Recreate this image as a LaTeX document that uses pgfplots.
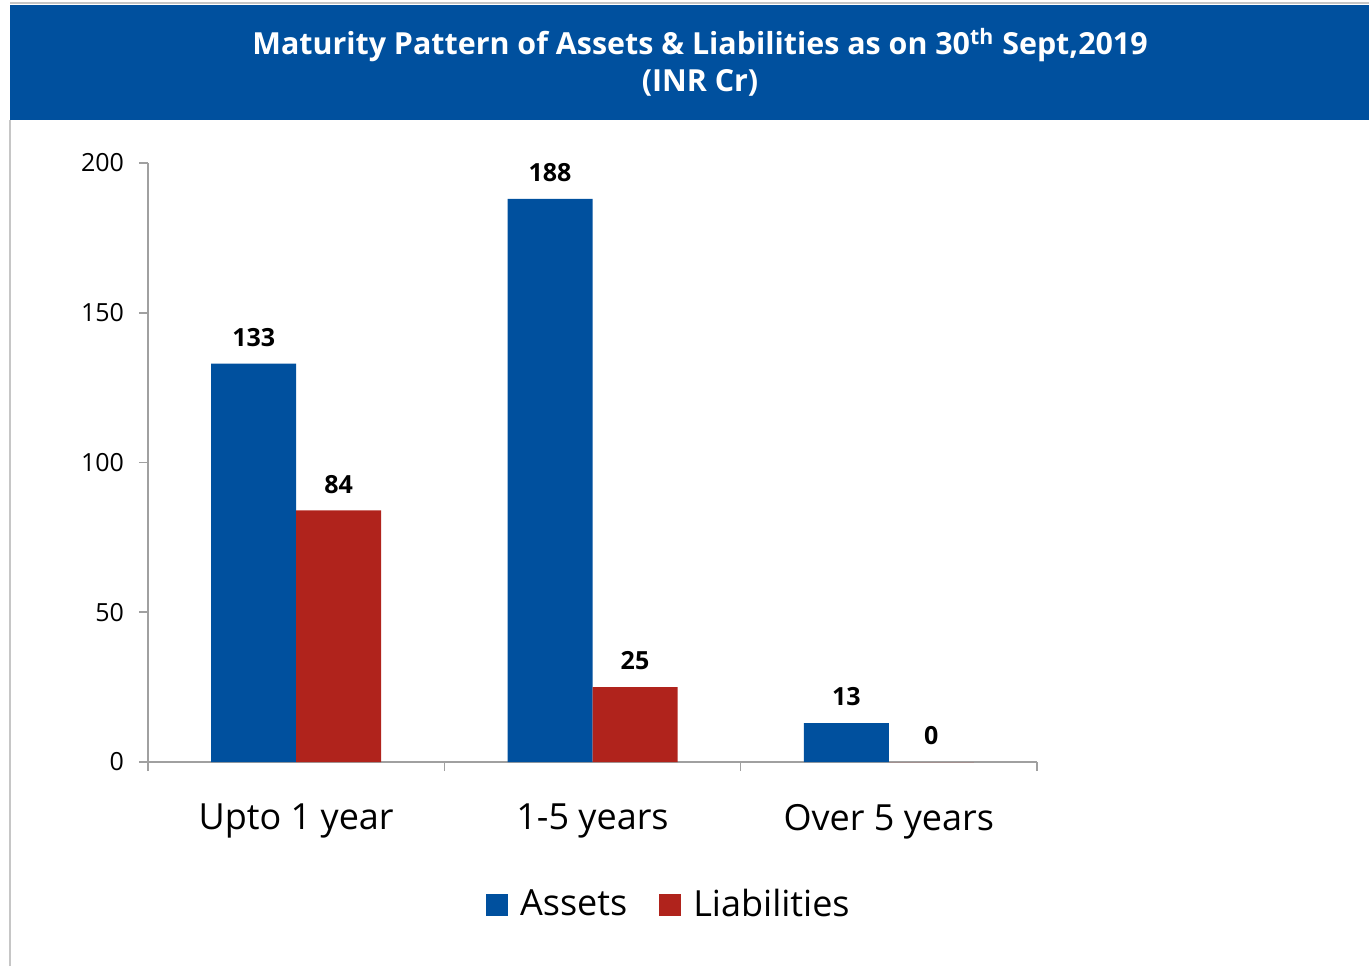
\documentclass[border=0pt]{standalone}
\usepackage{pgfplots}
\pgfplotsset{compat=1.18}
\usepackage{fontspec}
\setmainfont{Open Sans}
\definecolor{cblue}{RGB}{0,80,158}
\definecolor{cred}{RGB}{176,35,28}
\definecolor{axgray}{RGB}{160,160,160}
\begin{document}
\begin{tikzpicture}
\path[use as bounding box] (0,0) rectangle (684.5pt,483pt);
\fill[cblue] (5pt,423pt) rectangle (684.5pt,480.5pt);
\draw[axgray!60,line width=1pt] (5pt,481.5pt) -- (684.5pt,481.5pt);
\draw[axgray!60,line width=0.8pt] (5pt,0pt) -- (5pt,423pt);
\node[text=white,font=\fontsize{15.2}{17}\selectfont\bfseries] at (350pt,460.5pt) {Maturity Pattern of Assets \& Liabilities as on 30\textsuperscript{th} Sept,2019};
\node[text=white,font=\fontsize{15.2}{17}\selectfont\bfseries] at (350pt,441.5pt) {(INR Cr)};
\begin{axis}[
  at={(74pt,102pt)}, anchor=south west,
  scale only axis, width=444.5pt, height=299.5pt,
  ybar=0pt, bar width=42.5pt,
  xmin=-0.5, xmax=2.5, ymin=0, ymax=200,
  axis x line=bottom, axis y line=left,
  axis line style={axgray, -, line width=0.8pt},
  xtick={-0.5,0.5,1.5,2.5},
  x tick label as interval,
  xticklabels={Upto 1 year,1-5 years,Over 5 years},
  x tick label style={font=\fontsize{18}{21}\selectfont, yshift=-13pt},
  major tick length=4.5pt,
  tick style={axgray,line width=0.8pt},
  ytick={0,50,100,150,200},
  tick align=outside,
  y tick label style={font=\fontsize{12.5}{14}\selectfont, xshift=-4pt},
  /pgf/number format/assume math mode=true,
  nodes near coords,
  every node near coord/.append style={font=\fontsize{12.5}{14}\selectfont\bfseries, text=black, yshift=5pt},
  legend style={at={(0.587,-0.238)}, anchor=center, draw=none, legend columns=2,
    font=\fontsize{18}{21}\selectfont,
    /tikz/every odd column/.append style={column sep=4pt},
    /tikz/every even column/.append style={column sep=14pt}},
  legend image code/.code={\fill[#1] (0pt,-5.5pt) rectangle (11pt,5.5pt);},
  legend cell align=left,
]
\addplot[fill=cblue, draw=none] coordinates {(0,133) (1,188) (2,13)};
\addplot[fill=cred, draw=none] coordinates {(0,84) (1,25) (2,0)};
\legend{Assets,Liabilities}
\end{axis}
\end{tikzpicture}
\end{document}
